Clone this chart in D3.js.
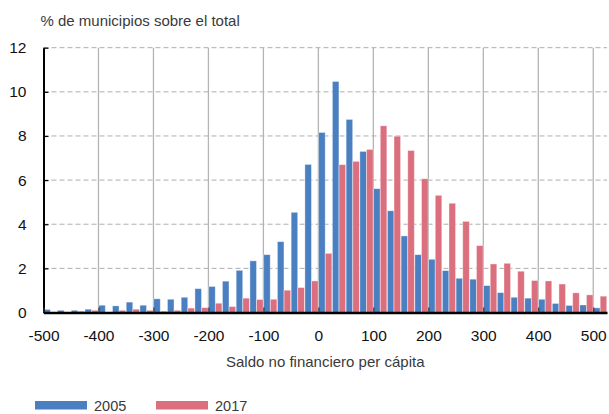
<!DOCTYPE html>
<html>
<head>
<meta charset="utf-8">
<script src="https://cdn.jsdelivr.net/npm/d3@7"></script>
<style>
  html, body { margin: 0; padding: 0; background: #fff; }
  svg text { font-family: "Liberation Sans", Arial, Helvetica, sans-serif; }
</style>
</head>
<body>
<div id="chart"></div>
<script>
// bins of 25 (left edge), share of municipalities in %
const bins = d3.range(-500, 501, 25);
const years = ["2005", "2017"];
const values2005 = [
  0.14, 0.10, 0.10, 0.15, 0.33, 0.30, 0.47, 0.33, 0.62, 0.60,
  0.69, 1.08, 1.18, 1.42, 1.91, 2.34, 2.62, 3.21, 4.54, 6.71,
  8.16, 10.47, 8.75, 7.30, 5.61, 4.61, 3.47, 2.62, 2.41, 1.90,
  1.55, 1.51, 1.22, 0.90, 0.69, 0.65, 0.60, 0.41, 0.32, 0.34,
  0.21
];
const values2017 = [
  0.02, 0.02, 0.06, 0.10, 0.02, 0.10, 0.15, 0.10, 0.06, 0.10,
  0.20, 0.22, 0.42, 0.27, 0.65, 0.59, 0.60, 1.01, 1.13, 1.43,
  2.68, 6.70, 6.85, 7.39, 8.46, 7.99, 7.34, 6.06, 5.31, 4.95,
  4.13, 3.03, 2.20, 2.23, 1.87, 1.45, 1.43, 1.29, 0.89, 0.80,
  0.74
];
const xTicks = d3.range(-500, 501, 100);
const yTicks = d3.range(0, 13, 2);

const colors = { "2005": "#4a7fc1", "2017": "#db6f7e" };
const font = "'Liberation Sans', Arial, Helvetica, sans-serif";

const width = 609;
const height = 414;
const plot = { left: 43.5, right: 607, top: 47.7, bottom: 312.5 };

const svg = d3
  .select("#chart")
  .append("svg")
  .attr("width", width)
  .attr("height", height);

const x = d3.scaleLinear().domain([-500, 525]).range([plot.left, plot.right]);
const y = d3.scaleLinear().domain([0, 12]).range([plot.bottom, plot.top]);

const binW = x(25) - x(0);
const xSub = d3
  .scaleBand()
  .domain(years)
  .range([0, binW])
  .paddingInner(0.02)
  .paddingOuter(0.04);

// grid
svg
  .append("g")
  .selectAll("line")
  .data(yTicks.filter((d) => d > 0))
  .enter()
  .append("line")
  .attr("x1", plot.left)
  .attr("x2", plot.right)
  .attr("y1", (d) => y(d))
  .attr("y2", (d) => y(d))
  .attr("stroke", "#adadad")
  .attr("stroke-width", 1)
  .attr("stroke-dasharray", "5,3");

svg
  .append("g")
  .selectAll("line")
  .data(xTicks.filter((d) => d > -500))
  .enter()
  .append("line")
  .attr("x1", (d) => x(d))
  .attr("x2", (d) => x(d))
  .attr("y1", y(12))
  .attr("y2", y(0))
  .attr("stroke", "#b4b4b4")
  .attr("stroke-width", 1.3);

// bars
const rows = bins.map((b, i) => ({
  bin: b,
  "2005": values2005[i],
  "2017": values2017[i]
}));

years.forEach((yr) => {
  svg
    .append("g")
    .selectAll("rect")
    .data(rows)
    .enter()
    .append("rect")
    .attr("x", (d) => x(d.bin) + xSub(yr))
    .attr("y", (d) => y(d[yr]))
    .attr("width", xSub.bandwidth())
    .attr("height", (d) => y(0) - y(d[yr]))
    .attr("fill", colors[yr])
    .attr("stroke", "rgba(255,255,255,0.45)")
    .attr("stroke-width", 0.8);
});

// axes
const yAxis = svg
  .append("g")
  .attr("transform", "translate(" + plot.left + ",0)")
  .call(
    d3.axisLeft(y).tickValues(yTicks).tickSize(-5).tickSizeOuter(0).tickPadding(17)
  );
yAxis.select(".domain").attr("stroke", "#000").attr("stroke-width", 2);
yAxis.selectAll(".tick line").attr("stroke", "#000").attr("stroke-width", 1.2);
yAxis
  .selectAll("text")
  .style("font-family", font)
  .style("font-size", "15.5px")
  .attr("fill", "#111");

const xAxis = svg
  .append("g")
  .attr("transform", "translate(0," + plot.bottom + ")")
  .call(
    d3
      .axisBottom(x)
      .tickValues(xTicks)
      .tickFormat((d) => String(d))
      .tickSize(-5)
      .tickSizeOuter(0)
      .tickPadding(17)
  );
xAxis.select(".domain").attr("stroke", "#000").attr("stroke-width", 2.6);
xAxis.selectAll(".tick line").attr("stroke", "#333").attr("stroke-width", 1.2);
xAxis
  .selectAll("text")
  .style("font-family", font)
  .style("font-size", "15.5px")
  .attr("fill", "#111");

// titles
svg
  .append("text")
  .attr("x", 40.5)
  .attr("y", 26)
  .text("% de municipios sobre el total")
  .style("font-family", font)
  .style("font-size", "15px")
  .attr("fill", "#3a3a3a");

svg
  .append("text")
  .attr("x", (plot.left + plot.right) / 2)
  .attr("y", 367)
  .attr("text-anchor", "middle")
  .text("Saldo no financiero per cápita")
  .style("font-family", font)
  .style("font-size", "15px")
  .attr("fill", "#3a3a3a");

// legend
const legend = svg
  .append("g")
  .selectAll("g")
  .data(years)
  .enter()
  .append("g")
  .attr("transform", (d, i) => "translate(" + (35 + i * 121) + ",401)");

legend
  .append("rect")
  .attr("width", 52)
  .attr("height", 8.5)
  .attr("fill", (d) => colors[d]);

legend
  .append("text")
  .attr("x", 59)
  .attr("y", 9.5)
  .text((d) => d)
  .style("font-family", font)
  .style("font-size", "14.5px")
  .attr("fill", "#3a3a3a");
</script>
</body>
</html>
